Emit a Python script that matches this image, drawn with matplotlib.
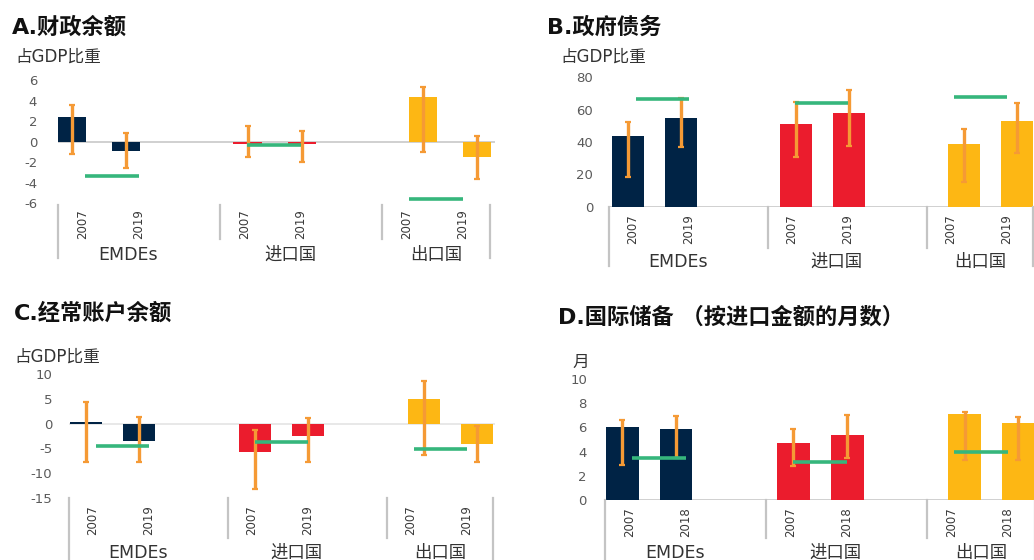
import numpy as np
import matplotlib
matplotlib.use("Agg")
import matplotlib.pyplot as plt
from matplotlib.transforms import blended_transform_factory

plt.rcParams['font.family'] = ['DejaVu Sans', 'Noto Sans CJK SC']
plt.rcParams['axes.unicode_minus'] = False

# ---------------- data ----------------
groups = ["EMDEs", "进口国", "出口国"]
years_19 = ["2007", "2019"]
years_18 = ["2007", "2018"]

# A. fiscal balance, % of GDP  (rows: EMDEs, importers, exporters; cols: two years)
fiscal = [[2.4, -0.9], [-0.25, -0.2], [4.4, -1.5]]
fiscal_hi = [[3.6, 0.9], [1.5, 1.1], [5.3, 0.6]]
fiscal_lo = [[-1.2, -2.6], [-1.5, -2.0], [-1.0, -3.6]]
fiscal_ref = [-3.3, -0.3, -5.6]

# B. government debt, % of GDP
debt = [[44, 55], [51, 58], [38.5, 53]]
debt_hi = [[52.5, 67.5], [65, 72], [48, 64]]
debt_lo = [[18.5, 37], [30.5, 37.5], [15, 33]]
debt_ref = [66.5, 64, 68]

# C. current account balance, % of GDP
current = [[0.4, -3.5], [-5.8, -2.4], [4.9, -4.1]]
current_hi = [[4.3, 1.3], [-1.2, 1.2], [8.6, -0.5]]
current_lo = [[-7.8, -7.8], [-13.2, -7.8], [-6.3, -7.8]]
current_ref = [-4.6, -3.7, -5.1]

# D. international reserves, months of imports
reserves = [[6.05, 5.9], [4.75, 5.4], [7.1, 6.35]]
reserves_hi = [[6.6, 6.95], [5.9, 7.0], [7.25, 6.9]]
reserves_lo = [[2.9, 3.5], [2.85, 3.45], [3.3, 3.3]]
reserves_ref = [3.5, 3.1, 3.95]

yticks_a = [-6, -4, -2, 0, 2, 4, 6]
yticks_b = [0, 20, 40, 60, 80]
yticks_c = [-15, -10, -5, 0, 5, 10]
yticks_d = [0, 2, 4, 6, 8, 10]

# ---------------- style ----------------
group_colors = ["#002345", "#EB1C2D", "#FDB714"]
err_color = "#F59A35"
ref_color = "#36B67C"
sep_color = "#C4C4C4"

W, H = 1034, 560
fig = plt.figure(figsize=(W / 100, H / 100), dpi=100)


def fx(px):
    return px / W


def fy(py):
    return 1 - py / H


def panel(title, title_xy, unit, unit_xy, values, hi, lo, ref, years, yticks, lay):
    x0, u, xmax = lay["x0"], lay["u"], lay["xmax"]
    ytop, ybot = lay["ytop"], lay["ybot"]
    ax = fig.add_axes([fx(x0), fy(ybot), xmax * u / W, (ybot - ytop) / H])
    ax.set_xlim(0, xmax)
    ax.set_ylim(yticks[0], yticks[-1])
    for s in ax.spines.values():
        s.set_visible(False)
    ax.set_xticks([])
    ax.set_yticks(yticks)
    ax.tick_params(axis="y", length=0, pad=lay["pad"], labelsize=9.5,
                   labelcolor="#5A5A5A")
    ax.axhline(0, color=lay["zero"], lw=1.2, zorder=1)

    for g in range(3):
        xs = [lay["off"] + lay["pitch"] * g + j for j in range(2)]
        ax.bar(xs, values[g], width=lay["bw"], color=group_colors[g], zorder=2)
        h = np.array(hi[g], dtype=float)
        l = np.array(lo[g], dtype=float)
        ax.errorbar(xs, (h + l) / 2, yerr=(h - l) / 2, fmt="none", ecolor=err_color,
                    elinewidth=2.4, capsize=2.5, capthick=1.6, zorder=3)
        ax.plot([3 * g + 0.5, 3 * g + 1.5], [ref[g], ref[g]], color=ref_color,
                lw=2.6, solid_capstyle="butt", zorder=4)

    # grouped category axis below the plot
    tr = blended_transform_factory(ax.transData, fig.transFigure)
    for k, xs in enumerate([0, 3, 6, 8]):
        bottom = lay["sep_outer"] if k in (0, 3) else lay["sep_inner"]
        ax.plot([xs, xs], [fy(lay["sep_top"]), fy(bottom)], transform=tr,
                color=sep_color, lw=1.6, clip_on=False)
    for g in range(3):
        for j, yr in enumerate(years):
            ax.text(3 * g + (0.45 if j == 0 else 1.5), fy(lay["year_y"]), yr,
                    transform=tr, rotation=90, ha="center", va="center",
                    fontsize=8.5, color="#3A3A3A")
        ax.text([1.3, 4.3, 7.0][g], fy(lay["group_y"]), groups[g], transform=tr,
                ha="center", va="center", fontsize=12.5, color="#333333")

    fig.text(fx(title_xy[0]), fy(title_xy[1]), title, fontsize=16,
             fontweight="bold", ha="left", va="center", color="#111111")
    fig.text(fx(unit_xy[0]), fy(unit_xy[1]), unit, fontsize=12,
             ha="left", va="center", color="#333333")
    return ax


lay_a = dict(x0=58, u=54, xmax=8.09, ytop=80.3, ybot=203.3, pad=15, zero="#C8C8C8",
             off=0.26, pitch=3.25, bw=0.52, sep_top=205, sep_inner=239, sep_outer=258,
             year_y=224, group_y=255)
lay_b = dict(x0=609, u=53, xmax=8.5, ytop=77.3, ybot=206.7, pad=11.5, zero="#C8C8C8",
             off=0.36, pitch=3.17, bw=0.61, sep_top=207, sep_inner=248, sep_outer=266,
             year_y=229, group_y=262)
lay_c = dict(x0=69, u=53, xmax=8.04, ytop=374.3, ybot=497.7, pad=12, zero="#E4E4E4",
             off=0.32, pitch=3.19, bw=0.6, sep_top=498, sep_inner=538, sep_outer=565,
             year_y=520, group_y=553)
lay_d = dict(x0=605, u=53.7, xmax=8.47, ytop=379, ybot=500, pad=13, zero="#C8C8C8",
             off=0.32, pitch=3.19, bw=0.61, sep_top=500, sep_inner=538, sep_outer=565,
             year_y=522, group_y=553)

panel("A.财政余额", (12, 27), "占GDP比重", (15, 57),
      fiscal, fiscal_hi, fiscal_lo, fiscal_ref, years_19, yticks_a, lay_a)
panel("B.政府债务", (547, 27), "占GDP比重", (560, 57),
      debt, debt_hi, debt_lo, debt_ref, years_19, yticks_b, lay_b)
panel("C.经常账户余额", (14, 313), "占GDP比重", (14, 357),
      current, current_hi, current_lo, current_ref, years_19, yticks_c, lay_c)
panel("D.国际储备 （按进口金额的月数）", (558, 317), "月", (572, 362),
      reserves, reserves_hi, reserves_lo, reserves_ref, years_18, yticks_d, lay_d)

fig.savefig("out.png", dpi=100)
